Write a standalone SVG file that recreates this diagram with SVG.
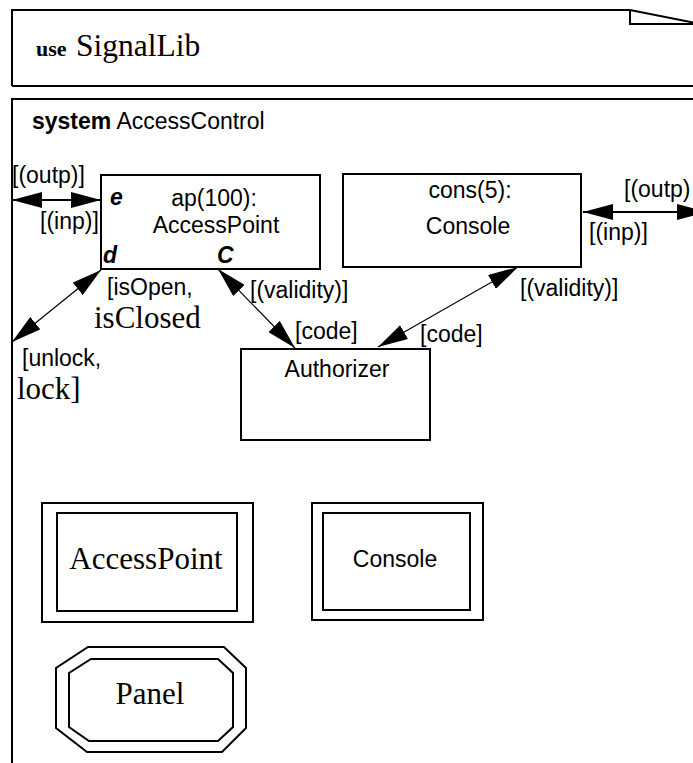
<svg xmlns="http://www.w3.org/2000/svg" width="693" height="763" viewBox="0 0 693 763">
<style>
.box{fill:none;stroke:#000;stroke-width:2}
.ln{fill:none;stroke:#000;stroke-width:1.2}
.lnh{fill:none;stroke:#000;stroke-width:2}
.s{font-family:"Liberation Sans",Arial,sans-serif;font-size:23px;fill:#000}
.r{font-family:"Liberation Serif","Times New Roman",serif;font-size:31px;fill:#000}
.bi{font-weight:bold;font-style:italic}
.m{text-anchor:middle}
</style>
<defs>
<marker id="ah" viewBox="0 0 30 16" refX="30" refY="8" markerWidth="30" markerHeight="16" markerUnits="userSpaceOnUse" orient="auto-start-reverse">
<path d="M0,0 L30,8 L0,16 z" fill="#000"/>
</marker>
</defs>
<rect width="693" height="763" fill="#fff"/>
<g id="use-frame">
<path class="box" d="M12,86 L12,10 L630,10 M630,10 L630,24 L700,24 M630,10 L700,24 M12,86 L700,86"/>
<text x="36" y="56" font-family="'Liberation Serif','Times New Roman',serif" font-size="22" font-weight="bold">use</text>
<text x="76" y="56" font-family="'Liberation Serif','Times New Roman',serif" font-size="31.5">SignalLib</text>
</g>
<g id="system-frame">
<path class="box" d="M12,763 L12,99 L700,99"/>
<text class="s" x="32" y="129"><tspan font-weight="bold">system</tspan> AccessControl</text>
</g>
<g id="ap">
<rect class="box" x="101" y="175" width="219" height="94"/>
<text class="s bi" x="110" y="205">e</text>
<text class="s bi" x="103" y="263">d</text>
<text class="s bi" x="217" y="263">C</text>
<text class="s m" x="214" y="206">ap(100):</text>
<text class="s m" x="216" y="233">AccessPoint</text>
</g>
<g id="cons">
<rect class="box" x="343" y="174" width="238" height="93"/>
<text class="s m" x="470" y="198">cons(5):</text>
<text class="s m" x="468" y="234">Console</text>
</g>
<g id="authorizer">
<rect class="box" x="241" y="349" width="189" height="91"/>
<text class="s m" x="337" y="377">Authorizer</text>
</g>
<g id="type-accesspoint">
<rect class="box" x="42" y="503" width="211" height="119"/>
<rect class="box" x="57" y="513" width="180" height="98"/>
<text class="r m" x="146" y="569">AccessPoint</text>
</g>
<g id="type-console">
<rect class="box" x="312" y="503" width="171" height="117"/>
<rect class="box" x="323" y="513" width="147" height="97"/>
<text class="s m" x="395" y="567">Console</text>
</g>
<g id="type-panel">
<polygon class="box" points="88,647 224,647 246,668 246,728 222,752 87,752 56,728 56,668"/>
<polygon class="box" points="91,659 218,659 233,673 233,727 218,741 89,741 69,727 69,673"/>
<text class="r m" x="150" y="704">Panel</text>
</g>
<g id="connectors">
<line class="lnh" x1="12" y1="200" x2="101" y2="200" marker-start="url(#ah)" marker-end="url(#ah)"/>
<line class="lnh" x1="583" y1="212" x2="707" y2="212" marker-start="url(#ah)" marker-end="url(#ah)"/>
<line class="ln" x1="101" y1="270" x2="12" y2="342" marker-start="url(#ah)" marker-end="url(#ah)"/>
<line class="ln" x1="218" y1="269" x2="295" y2="348" marker-start="url(#ah)" marker-end="url(#ah)"/>
<line class="ln" x1="518" y1="267" x2="378" y2="347" marker-start="url(#ah)" marker-end="url(#ah)"/>
</g>
<g id="labels">
<text class="s" x="12" y="183">[(outp)]</text>
<text class="s" x="40" y="229">[(inp)]</text>
<text class="s" x="624" y="197">[(outp)</text>
<text class="s" x="589" y="240">[(inp)]</text>
<text class="s" x="107" y="295">[isOpen,</text>
<text class="r" x="94" y="328">isClosed</text>
<text class="s" x="22" y="366">[unlock,</text>
<text class="r" x="17" y="399">lock]</text>
<text class="s" x="250" y="298">[(validity)]</text>
<text class="s" x="295" y="339">[code]</text>
<text class="s" x="520" y="296">[(validity)]</text>
<text class="s" x="420" y="342">[code]</text>
</g>
</svg>
